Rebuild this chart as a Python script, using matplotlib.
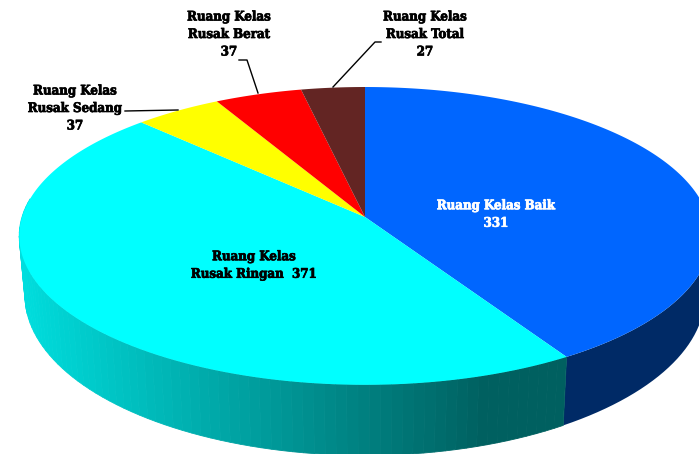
import numpy as np
from matplotlib import pyplot as plt
from matplotlib import patheffects

# Slices clockwise from the top
labels = ['Ruang Kelas Baik\n331', 'Ruang Kelas\nRusak Ringan  371', 'Ruang Kelas\nRusak Sedang\n37',
          'Ruang Kelas\nRusak Berat\n37', 'Ruang Kelas\nRusak Total\n27']
values = [331, 371, 37, 37, 27]
colors = ['#0066FF', '#00FFFF', '#FFFF00', '#FF0000', '#632523']
text_colors = ['white', 'black', 'black', 'black', 'black']
label_x = [496, 254, 75, 229, 425]
label_y = [214.5, 265.5, 108.5, 34.5, 34.5]


# Perspective view of a unit circle: apex is the centre of the circle
def project(theta, apex_y, a, b, k=0.127):
    u, v = np.sin(theta), np.cos(theta)
    d = 1 + k * v
    return 365 + a * u / d, apex_y - b * v / d


def top(theta):
    return project(theta, 217, 343, 146.5)


def bottom(theta):
    return project(theta, 275, 337.3, 157.5)


fig = plt.figure(figsize=(6.99, 4.54), dpi=100)
ax = fig.add_axes([0, 0, 1, 1])
ax.set_xlim(0, 699)
ax.set_ylim(454, 0)
ax.axis('off')

edges = 2 * np.pi * np.concatenate([[0], np.cumsum(values)]) / np.sum(values)
silhouette = np.arccos(-0.127)

# Side wall, blue part is flat and the cyan part gets darker to the right
th = np.linspace(np.pi - silhouette, edges[1], 40)
xt, yt = top(th)
xb, yb = bottom(th)
ax.fill(np.r_[xt, xb[::-1]], np.r_[yt, yb[::-1]], color='#002A66', lw=0)

th = np.linspace(edges[1], np.pi + silhouette, 80)
xt, yt = top(th)
xb, yb = bottom(th)
for i in range(len(th) - 1):
    s = np.clip((xt[i] - 19) / (490 - 19), 0, 1)
    g = 222 + (96 - 222) * s
    c = (0, g / 255, g / 255)
    ax.fill([xt[i], xt[i + 1], xb[i + 1], xb[i]], [yt[i], yt[i + 1], yb[i + 1], yb[i]],
            facecolor=c, edgecolor=c, lw=0.6)

# Top face
for i in range(len(values)):
    th = np.linspace(edges[i], edges[i + 1], 200)
    x, y = top(th)
    ax.fill(np.r_[365, x], np.r_[217, y], color=colors[i], lw=0)

# Leader lines
ax.plot([125, 178], [111, 110], color='black', lw=1)
ax.plot([239, 247, 258], [60, 60, 93], color='black', lw=1)
ax.plot([381, 375, 333], [42, 42, 87], color='black', lw=1)

for i in range(len(values)):
    t = ax.text(label_x[i], label_y[i], labels[i], color=text_colors[i], ha='center', va='center',
                family='DejaVu Serif', stretch='condensed', weight='bold', fontsize=9.5, linespacing=1.45,
                multialignment='center')
    t.set_path_effects([patheffects.withStroke(linewidth=0.5, foreground=text_colors[i])])

fig.savefig('out.png', dpi=100)
